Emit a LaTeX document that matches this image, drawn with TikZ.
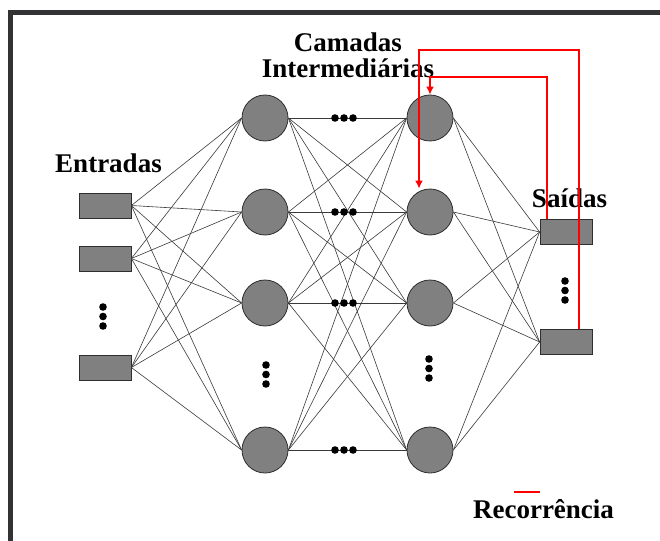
\documentclass[tikz,border=0pt]{standalone}
\usepackage{fontspec}
\setmainfont{Liberation Serif}
\usetikzlibrary{arrows.meta, calc, positioning}
\definecolor{paper}{HTML}{FFFFFF}
\definecolor{frame}{HTML}{333336}
\definecolor{cell}{HTML}{808080}
\definecolor{cellrim}{HTML}{2E2E2E}
\definecolor{wire}{HTML}{3A3A3A}
\definecolor{recur}{HTML}{FF0000}
\tikzset{neuron/.style={circle, fill=cell, draw=cellrim, line width=0.8pt, minimum size=46pt, inner sep=0pt},
  unitbox/.style={rectangle, fill=cell, draw=cellrim, line width=0.8pt, minimum width=52pt, minimum height=25pt, inner sep=0pt},
  syn/.style={wire, line width=0.6pt},
  recline/.style={recur, line width=2.8pt, line join=miter},
  lbl/.style={font=\fontsize{27}{30}\selectfont\bfseries, anchor=base, inner sep=0pt}}

\begin{document}
\begin{tikzpicture}[x=1pt, y=-1pt]
  \useasboundingbox (0,0) rectangle (660,540);
  \fill[paper] (0,0) rectangle (660,540);
  \draw[frame, line width=5pt] (10.5,545) -- (10.5,12.5) -- (665,12.5);
  % units
  \foreach \y/\n in {205.5/1, 258.5/2, 367.5/3}{\node[unitbox] (in\n) at (105,\y) {};}
  \foreach \y/\n in {118/1, 212/2, 303/3, 450/4}{
     \node[neuron] (ha\n) at (265,\y) {};
     \node[neuron] (hb\n) at (430,\y) {};}
  \foreach \y/\n in {232/1, 342/2}{\node[unitbox] (out\n) at (566,\y) {};}
  % weights
  \foreach \i in {1,2,3}{\foreach \j in {1,...,4}{\draw[syn] (in\i.east) -- (ha\j.west);}}
  \foreach \i in {1,...,4}{\foreach \j in {1,...,4}{\draw[syn] (ha\i.east) -- (hb\j.west);}}
  \foreach \i in {1,...,4}{\foreach \j in {1,2}{\draw[syn] (hb\i.east) -- (out\j.west);}}
  % ellipsis dots
  \foreach \y in {118,212,303,450}{\foreach \x in {335,344,353}{\fill (\x,\y) circle (3.8);}}
  \foreach \x/\y in {103/307, 266/365, 429/359, 565/281}{
     \foreach \k in {0,1,2}{\fill (\x,\y+9.5*\k) circle (3.8);}}
  % labels
  \node[lbl] (cam) at (348,52) {Camadas};
  \node[lbl] (inter) at (348,78) {Intermediárias};
  \node[lbl] (entr) at (108.5,172) {Entradas};
  \node[lbl] (said) at (569.5,207) {Saídas};
  \node[lbl] (rec) at (543.5,518) {Recorrência};
  % recurrence
  \coordinate (rtop) at (419,50);
  \coordinate (rin) at (430,77);
  \draw[recline, -{Latex[length=8pt,width=8pt]}] ([xshift=13pt]out2.north) |- (rtop) -- (rtop |- hb2.north);
  \draw[recline, -{Latex[length=8pt,width=8pt]}] ([xshift=-19pt]out1.north) |- (rin) -- (hb1.north);
  \draw[recur, line width=2.8pt] (514,492) -- (540,492);
\end{tikzpicture}
\end{document}
